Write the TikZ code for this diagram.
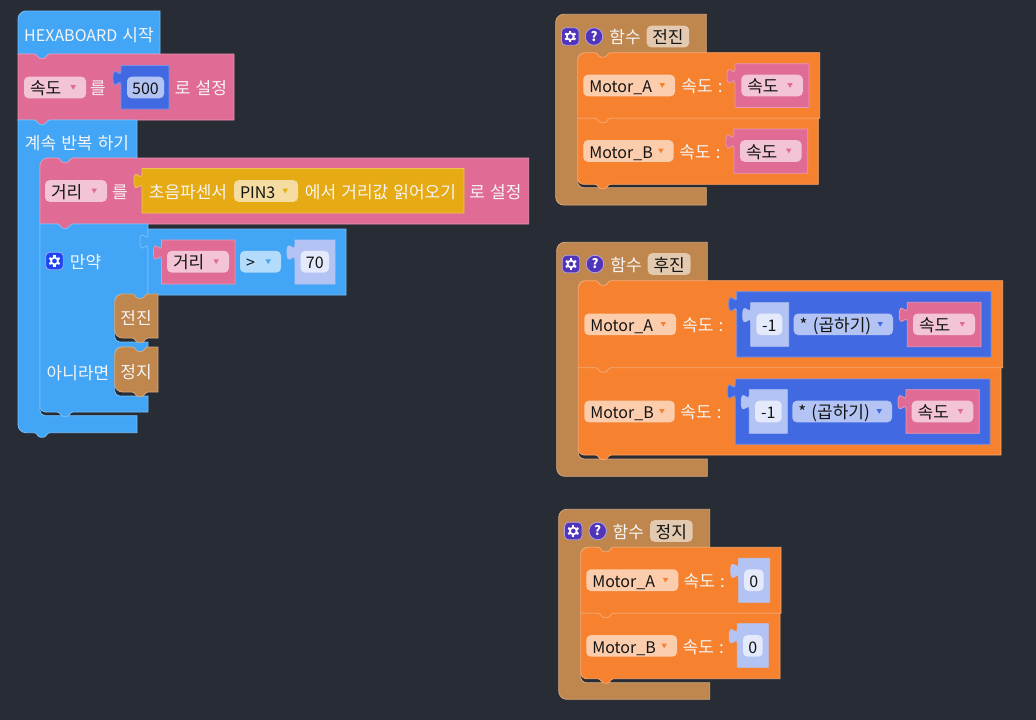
\documentclass[tikz,border=0pt]{standalone}
\usepackage{fontspec}
\setmainfont[WordSpace=1.35]{Noto Sans CJK KR}
\usepackage{xcolor}
\definecolor{bgdark}{HTML}{282C35}
\definecolor{hexblue}{HTML}{42A5F6}
\definecolor{varpink}{HTML}{E06C96}
\definecolor{motorange}{HTML}{F68230}
\definecolor{funcbrown}{HTML}{BF864D}
\definecolor{sensoryellow}{HTML}{E6AA14}
\definecolor{mathblue}{HTML}{4169E1}
\definecolor{numperi}{HTML}{B3C3F3}
\definecolor{iconpurple}{HTML}{5034BA}
\definecolor{iconblue}{HTML}{1E44F0}

\tikzset{
  bluebk/.style={fill=hexblue,draw=hexblue!72!white,line width=0.8pt},
  pinkbk/.style={fill=varpink,draw=varpink!72!white,line width=0.8pt},
  orangebk/.style={fill=motorange,draw=motorange!72!white,line width=0.8pt},
  brownbk/.style={fill=funcbrown,draw=funcbrown!72!white,line width=0.8pt},
  yellowbk/.style={fill=sensoryellow,draw=sensoryellow!72!white,line width=0.8pt},
  mathbk/.style={fill=mathblue,draw=mathblue!72!white,line width=0.8pt},
  numbk/.style={fill=numperi,draw=numperi,line width=0.8pt},
  lbl/.style={text=white!96!black,inner sep=0pt,anchor=mid,yshift=-4.5pt,font=\fontsize{17}{20}\selectfont},
  fieldbox/.style={rounded corners=4.5pt,inner sep=0pt,minimum height=21.6pt},
  fieldtxt/.style={text=black!92!white,inner sep=0pt,yshift=-4.5pt,font=\fontsize{17}{20}\selectfont},
}

% latin text runs a little smaller than the hangul
\newcommand{\ltn}[1]{{\fontsize{16}{20}\selectfont #1}}
% statement notch, left to right on a top edge
\newcommand{\notchR}[2]{-- (#1,#2) .. controls +(3.5,0) and +(-3,0) .. ++(6.5,4.5) -- ++(3,0) .. controls +(3,0) and +(-3.5,0) .. ++(6.5,-4.5)}
% same notch, right to left on a bottom edge
\newcommand{\notchL}[2]{-- (#1+16,#2) .. controls +(-3.5,0) and +(3,0) .. ++(-6.5,4.5) -- ++(-3,0) .. controls +(-3,0) and +(3.5,0) .. ++(-6.5,-4.5)}
\newcommand{\cornTL}[3]{-- (#1,#2+#3) .. controls (#1,#2+#3*0.45) and (#1+#3*0.45,#2) .. (#1+#3,#2)}
\newcommand{\cornBL}[3]{-- (#1+#3,#2) .. controls (#1+#3*0.45,#2) and (#1,#2-#3*0.45) .. (#1,#2-#3)}
\newcommand{\innerTL}[3]{-- (#1+#3,#2) .. controls (#1+#3*0.45,#2) and (#1,#2+#3*0.45) .. (#1,#2+#3)}
\newcommand{\innerBL}[3]{-- (#1,#2-#3) .. controls (#1,#2-#3*0.45) and (#1+#3*0.45,#2) .. (#1+#3,#2)}

% value block with its puzzle tab: style, x1, y1, x2, y2
\newcommand{\valblock}[5]{
  \draw[#1] (#2,#3) -- ++(0,5) .. controls +(0,10) and +(0,-15.5) .. ++(-8,7.5) .. controls +(0,15.5) and +(0,-10) .. ++(8,7.5) -- (#2,#5) -- (#4,#5) -- (#4,#3) -- cycle;
}
% dropdown: name, left x, centre y, width, fill, arrow colour, text
\newcommand{\ddfield}[7]{
  \node[fieldbox,fill=#5,minimum width=#4pt] (#1) at (#2+#4/2,#3) {};
  \node[fieldtxt,anchor=mid west] (#1txt) at ([xshift=6pt]#1.west) {#7};
  \fill[#6] ([xshift=-15.7pt,yshift=2.3pt]#1.east) -- ++(5.4,0) -- ++(-2.7,4.6) -- cycle;
}
% number field: name, left x, centre y, width, fill, text
\newcommand{\numfield}[6]{
  \node[fieldbox,fill=#5,minimum width=#4pt] (#1) at (#2+#4/2,#3) {};
  \node[fieldtxt,anchor=mid] (#1txt) at (#1.center) {#6};
}
% gear button: name, centre x, centre y, fill
\newcommand{\gearbtn}[4]{
  \node[fill=#4,draw=white!55!#4,rounded corners=4pt,minimum size=17.5pt,inner sep=0pt,line width=0.8pt] (#1) at (#2,#3) {};
  \draw[white,line width=1.7pt] (#1.center) circle (3.4pt);
  \foreach \ang in {30,90,...,330}
    \draw[white,line width=2.2pt] (#1.center) ++(\ang:3.8) -- ++(\ang:2.1);
}
% function header: x1, y1, x2, arm x, cut top, cut bottom, y end
\newcommand{\funchat}[7]{
  \draw[brownbk] (#1,#2+8) \cornTL{#1}{#2}{8} -- (#3,#2) -- (#3,#5) \notchL{#4+17}{#5} \innerTL{#4}{#5}{6} \innerBL{#4}{#6}{6} -- (#3,#6) -- (#3,#7) \cornBL{#1}{#7}{8} -- cycle;
}
% help button, function word and name: prefix, gear x, y, help x, word x, field x, field width, name
\newcommand{\funchead}[8]{
  \gearbtn{#1gear}{#2}{#3}{iconpurple}
  \node[circle,fill=iconpurple,draw=white!55!iconpurple,minimum size=17.5pt,inner sep=0pt,line width=0.8pt,text=white,font=\bfseries\fontsize{13}{13}\selectfont] (#1help) at (#4,#3) {?};
  \node[lbl] (#1word) at (#5,#3) {함수};
  \numfield{#1name}{#6}{#3}{#7}{funcbrown!45!white}{#8}
}
% two stacked motor blocks: arm x, top y, x2 of first, mid y, x2 of second, bottom y
\newcommand{\motorpair}[6]{
  \draw[orangebk] (#1,#2+8) \cornTL{#1}{#2}{8} \notchR{#1+17}{#2} -- (#3,#2) -- (#3,#4) \notchL{#1+17}{#4} -- (#1,#4) -- cycle;
  \draw[orangebk] (#1,#4) \notchR{#1+17}{#4} -- (#5,#4) -- (#5,#6) \notchL{#1+17}{#6} \cornBL{#1}{#6}{6} -- cycle;
}

\begin{document}
\begin{tikzpicture}[x=1pt,y=-1pt]
  \fill[bgdark] (0,0) rectangle (1036,720);
  \useasboundingbox (0,0) rectangle (1036,720);

  % start stack
  \draw[bluebk] (18,54) \cornTL{18}{11}{8} -- (160,11) -- (160,54) \notchL{34}{54} -- cycle;
  \node[lbl] (hexastart) at (89,34) {\ltn{HEXABOARD} 시작};

  \draw[pinkbk] (18,54) \notchR{34}{54} -- (234,54) -- (234,120) \notchL{34}{120} -- (18,120) -- cycle;
  \ddfield{speedvar}{24}{87.5}{62}{varpink!40!white}{varpink}{속도}
  \node[lbl] (speedto) at (98,87.5) {를};
  \valblock{mathbk}{121}{65.5}{169}{109}
  \numfield{speednum}{127}{87.5}{37}{numperi}{\ltn{500}}
  \node[lbl] (speedset) at (201,87.5) {로 설정};

  % forever loop
  \draw[bluebk] (18,120) \notchR{34}{120} -- (137,120) -- (137,158) \notchL{57}{158} \innerTL{40}{158}{8} \innerBL{40}{415.7}{5} -- (137,415.7) -- (137,432.7) \notchL{34}{432.7} \cornBL{18}{432.7}{8} -- cycle;
  \node[lbl] (foreverlbl) at (77,142) {계속 반복 하기};

  % distance block
  \draw[pinkbk] (40,224) \cornTL{40}{158}{8} \notchR{57}{158} -- (528.7,158) -- (528.7,224) \notchL{57}{224} -- cycle;
  \ddfield{distvar}{45}{191}{62}{varpink!40!white}{varpink}{거리}
  \node[lbl] (distto) at (120,191) {를};
  \valblock{yellowbk}{142}{168.5}{464}{213}
  \node[lbl] (sonarlbl) at (188,191) {초음파센서};
  \ddfield{pinfield}{234}{191}{64}{sensoryellow!40!white}{sensoryellow}{\ltn{PIN3}}
  \node[lbl] (sonarread) at (380.5,191) {에서 거리값 읽어오기};
  \node[lbl] (distset) at (495.5,191) {로 설정};

  % if else
  \draw[bluebk] (40,224) \notchR{57}{224} -- (148,224) -- (148,294.5) \notchL{132}{294.5} \innerTL{114.7}{294.5}{6} \innerBL{114.7}{342}{5} -- (148,342) -- (148,347) \notchL{132}{347} \innerTL{114.7}{347}{6} \innerBL{114.7}{396}{5} -- (148,396) -- (148,412) \notchL{57}{412} \cornBL{40}{412}{5} -- cycle;
  \gearbtn{ifgear}{54.5}{261}{iconblue}
  \node[lbl] (iflbl) at (85.5,261) {만약};
  \node[lbl] (elselbl) at (78,372) {아니라면};

  \valblock{bluebk}{148}{229}{346}{295}
  \valblock{pinkbk}{161.5}{240}{235}{284}
  \ddfield{compvar}{167}{261.7}{62}{varpink!40!white}{varpink}{거리}
  \ddfield{compop}{240}{261.7}{41}{hexblue!40!white}{hexblue}{\ltn{>}}
  \valblock{numbk}{295}{240}{335}{284}
  \numfield{compnum}{300.5}{261.7}{28.5}{numperi!35!white}{\ltn{70}}

  \draw[brownbk] (114.7,302) \cornTL{114.7}{294}{8} \notchR{132}{294} -- (158,294) -- (158,338) \notchL{132}{338} \cornBL{114.7}{338}{8} -- cycle;
  \node[lbl] (callfwd) at (136,317) {전진};
  \draw[brownbk] (114.7,355) \cornTL{114.7}{347}{8} \notchR{132}{347} -- (158,347) -- (158,392) \notchL{132}{392} \cornBL{114.7}{392}{8} -- cycle;
  \node[lbl] (callstop) at (136,371) {정지};

  % forward function
  \funchat{555.7}{14.3}{706.3}{577.7}{52.7}{187.7}{205}
  \funchead{fwd}{570.3}{36.5}{594}{625}{646.7}{42.5}{전진}
  \motorpair{577.7}{52.7}{819.7}{118.3}{818.3}{184.3}
  \ddfield{fwdmotora}{583.3}{85.5}{91.7}{motorange!40!white}{motorange}{\ltn{Motor\_A}}
  \node[lbl] (fwdspeeda) at (702,85.5) {속도 :};
  \valblock{pinkbk}{735}{63.7}{809}{107.5}
  \ddfield{fwdvara}{741.3}{85.5}{61.5}{varpink!40!white}{varpink}{속도}
  \ddfield{fwdmotorb}{583.3}{151}{90.4}{motorange!40!white}{motorange}{\ltn{Motor\_B}}
  \node[lbl] (fwdspeedb) at (700,151) {속도 :};
  \valblock{pinkbk}{734}{129}{807.7}{173.3}
  \ddfield{fwdvarb}{740}{151}{61.5}{varpink!40!white}{varpink}{속도}

  % backward function
  \funchat{556.7}{242.3}{707.3}{578.3}{280.7}{459}{476.3}
  \funchead{back}{571}{264}{595}{626}{647.7}{43}{후진}
  \motorpair{578.3}{280.7}{1002.7}{367.7}{1001}{455}
  \ddfield{backmotora}{584.3}{324.3}{91.7}{motorange!40!white}{motorange}{\ltn{Motor\_A}}
  \node[lbl] (backspeeda) at (702.7,324.3) {속도 :};
  \valblock{mathbk}{736.7}{291.7}{991}{357}
  \valblock{numbk}{750.7}{302.7}{788.7}{346.3}
  \numfield{backnuma}{756.3}{324.3}{26}{numperi!35!white}{\ltn{-1}}
  \ddfield{backopa}{793.7}{324.3}{99.3}{numperi}{mathblue}{* (곱하기)}
  \valblock{pinkbk}{907.3}{302.3}{981}{346.7}
  \ddfield{backvara}{913}{324.3}{62}{varpink!40!white}{varpink}{속도}
  \ddfield{backmotorb}{584.3}{411.5}{90.4}{motorange!40!white}{motorange}{\ltn{Motor\_B}}
  \node[lbl] (backspeedb) at (701,411.5) {속도 :};
  \valblock{mathbk}{735.3}{379}{990}{444.3}
  \valblock{numbk}{749.3}{389.7}{787.3}{433.3}
  \numfield{backnumb}{755}{411.5}{26.7}{numperi!35!white}{\ltn{-1}}
  \ddfield{backopb}{792.3}{411.5}{99.7}{numperi}{mathblue}{* (곱하기)}
  \valblock{pinkbk}{906}{389.7}{979.3}{433.3}
  \ddfield{backvarb}{911.7}{411.5}{61.6}{varpink!40!white}{varpink}{속도}

  % stop function
  \funchat{558.7}{509.3}{709.7}{580.7}{547.3}{682.7}{699.3}
  \funchead{halt}{573.3}{531}{597.7}{628.3}{650}{42.7}{정지}
  \motorpair{580.7}{547.3}{781}{613.3}{780}{678.7}
  \ddfield{haltmotora}{586.3}{580.2}{92}{motorange!40!white}{motorange}{\ltn{Motor\_A}}
  \node[lbl] (haltspeeda) at (704.3,580.2) {속도 :};
  \valblock{numbk}{738.7}{558.3}{769.7}{602.3}
  \numfield{haltnuma}{744}{580.2}{19.7}{numperi!35!white}{\ltn{0}}
  \ddfield{haltmotorb}{586.3}{645.9}{90.7}{motorange!40!white}{motorange}{\ltn{Motor\_B}}
  \node[lbl] (haltspeedb) at (703.3,645.9) {속도 :};
  \valblock{numbk}{737.3}{623.7}{768.3}{667.3}
  \numfield{haltnumb}{743}{645.9}{19.7}{numperi!35!white}{\ltn{0}}
\end{tikzpicture}
\end{document}
